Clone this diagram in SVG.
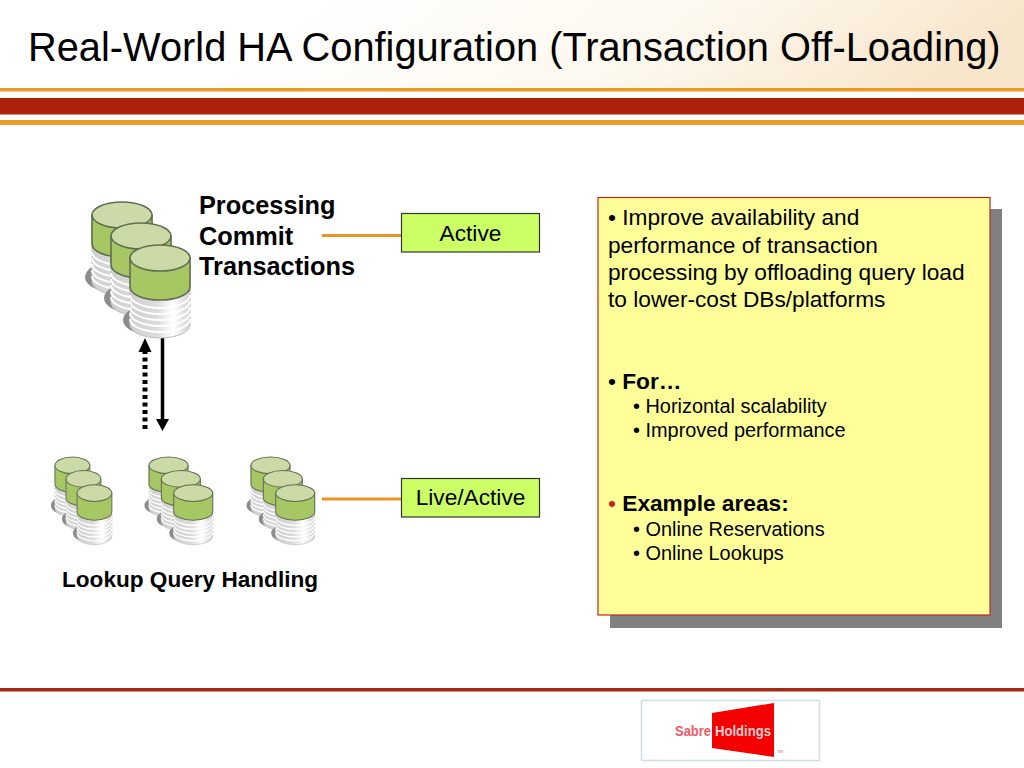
<svg xmlns="http://www.w3.org/2000/svg" width="1024" height="768" viewBox="0 0 1024 768">
<style>
text{font-family:"Liberation Sans",Arial,sans-serif;fill:#000}
.b{font-weight:bold}
.lbl{font-size:25.3px;font-weight:bold}
.body{font-size:22.7px}
.sub{font-size:19.9px}
.tag{font-size:22.7px;text-anchor:middle}
.box{fill:#ccff66;stroke:#333;stroke-width:1.2}
.conn{stroke:#ee9422;stroke-width:3;fill:none}
</style>
<defs>
<linearGradient id="hdr" x1="0" y1="0" x2="1" y2="0.12">
<stop offset="0.3" stop-color="#fff"/><stop offset="0.7" stop-color="#fdf8ee"/><stop offset="1" stop-color="#f8e6cc"/>
</linearGradient>
<linearGradient id="disk" x1="0" y1="0" x2="1" y2="0">
<stop offset="0" stop-color="#cfcfcf"/><stop offset="0.45" stop-color="#dcdcdc"/><stop offset="0.72" stop-color="#fff"/><stop offset="1" stop-color="#cfcfcf"/>
</linearGradient>
<g id="cyl">
<ellipse cx="17" cy="75" rx="24" ry="14" fill="#8c8c8c"/>
<path d="M0 13V80A30 13 0 0 0 60 80V13Z" fill="url(#disk)" stroke="#bdbdbd" stroke-width="1"/>
<g fill="none" stroke="#fff" stroke-width="2">
<path d="M0 50A30 13 0 0 0 60 50"/><path d="M0 56A30 13 0 0 0 60 56"/><path d="M0 62A30 13 0 0 0 60 62"/><path d="M0 68A30 13 0 0 0 60 68"/><path d="M0 74A30 13 0 0 0 60 74"/>
</g>
<path d="M0 13V42A30 13 0 0 0 60 42V13Z" fill="#a7c765" stroke="#5f6f50" stroke-width="1.600"/>
<ellipse cx="30" cy="13" rx="30" ry="13" fill="#cbdaa6" stroke="#5f6f50" stroke-width="1.600"/>
</g>
<g id="stack">
<use href="#cyl" x="0" y="0"/>
<use href="#cyl" x="19" y="21"/>
<use href="#cyl" x="38" y="43"/>
</g>
</defs>

<g id="background">
<rect width="1024" height="88" fill="url(#hdr)"/>
<rect y="88" width="1024" height="3.500" fill="#eb9c26"/>
<rect y="98" width="1024" height="16.500" fill="#ad2009"/>
<rect y="120" width="1024" height="5" fill="#eb9c26"/>
<rect y="688" width="1024" height="3.500" fill="#a52a14"/>
</g>

<text id="title" x="28" y="61" font-size="39.800">Real-World HA Configuration (Transaction Off-Loading)</text>

<g id="connectors">
<path class="conn" d="M322 235.500H401"/>
<path class="conn" d="M322 499H401"/>
<path d="M145 429V350" stroke="#000" stroke-width="5" stroke-dasharray="4 3.500" fill="none"/>
<path d="M138.500 352L145 338L151.500 352Z" fill="#000"/>
<path d="M162.500 338V420" stroke="#000" stroke-width="3.500" fill="none"/>
<path d="M156 419L162.500 431L169 419Z" fill="#000"/>
</g>

<g id="db-primary"><use href="#stack" transform="translate(92 202)"/></g>
<g id="db-group-1"><use href="#stack" transform="translate(55 457) scale(.58 .645)"/></g>
<g id="db-group-2"><use href="#stack" transform="translate(149 457) scale(.65 .645)"/></g>
<g id="db-group-3"><use href="#stack" transform="translate(251 457) scale(.65 .645)"/></g>

<g id="label-processing">
<text class="lbl" x="199" y="214">Processing</text>
<text class="lbl" x="199" y="245">Commit</text>
<text class="lbl" x="199" y="275">Transactions</text>
</g>
<text id="label-lookup" x="62" y="587" font-size="22.600" class="b">Lookup Query Handling</text>

<g id="node-active">
<rect class="box" x="401.500" y="213.500" width="138" height="38.500"/>
<text class="tag" x="470.500" y="241">Active</text>
</g>
<g id="node-live">
<rect class="box" x="401.500" y="478.500" width="138" height="38.500"/>
<text class="tag" x="470.500" y="505">Live/Active</text>
</g>

<g id="notes">
<rect x="610" y="209" width="392" height="419" fill="#808080"/>
<rect x="598" y="197.500" width="392" height="417.500" fill="#ffff99" stroke="#c0281c" stroke-width="1.200"/>
<text class="body" x="608" y="225">• Improve availability and</text>
<text class="body" x="608" y="252.500">performance of transaction</text>
<text class="body" x="608" y="280">processing by offloading query load</text>
<text class="body" x="608" y="307">to lower-cost DBs/platforms</text>
<text class="body" x="608" y="389">• <tspan class="b">For…</tspan></text>
<text class="sub" x="633" y="413">• Horizontal scalability</text>
<text class="sub" x="633" y="437">• Improved performance</text>
<text class="body" x="608" y="511"><tspan style="fill:#c0281c">• </tspan><tspan class="b">Example areas:</tspan></text>
<text class="sub" x="633" y="536">• Online Reservations</text>
<text class="sub" x="633" y="560">• Online Lookups</text>
</g>

<g id="logo">
<rect x="641.500" y="700.500" width="178" height="60" fill="#fff" stroke="#cfdde6" stroke-width="1.500"/>
<path d="M712 713L774 703V757L712 748Z" fill="#f40000"/>
<text x="675" y="736" font-size="14.500" font-weight="bold" textLength="36" lengthAdjust="spacingAndGlyphs" style="fill:#f0596a">Sabre</text>
<text x="715" y="736" font-size="15" font-weight="bold" textLength="56" lengthAdjust="spacingAndGlyphs" style="fill:#fbd0d0">Holdings</text>
<text x="777" y="753" font-size="4" style="fill:#e06060">TM</text>
</g>
</svg>
